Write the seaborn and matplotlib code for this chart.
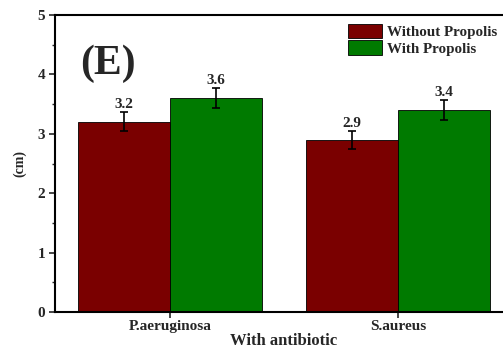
import matplotlib
matplotlib.use("Agg")
import matplotlib.pyplot as plt
from matplotlib.ticker import MultipleLocator
import seaborn as sns
import pandas as pd

# Inhibition zone data (cm)
organisms = ["P.aeruginosa", "S.aureus"]
treatments = ["Without Propolis", "With Propolis"]
without_propolis = [3.2, 2.9]
with_propolis = [3.6, 3.4]
without_err = [0.16, 0.15]
with_err = [0.17, 0.17]
colors = ["#7a0000", "#007a00"]

df = pd.DataFrame({
    "organism": organisms * 2,
    "treatment": [treatments[0]] * 2 + [treatments[1]] * 2,
    "value": without_propolis + with_propolis,
    "err": without_err + with_err,
})

sns.set_style("white")
plt.rcParams["font.family"] = ["Liberation Serif", "DejaVu Serif"]
plt.rcParams["font.weight"] = "bold"

fig = plt.figure(figsize=(5.03, 3.49), dpi=100)
ax = fig.add_axes([0.1093, 0.106, 0.9105, 0.851])

sns.barplot(data=df, x="organism", y="value", hue="treatment",
            hue_order=treatments, order=organisms, palette=colors,
            width=0.807, errorbar=None, edgecolor="black", linewidth=0.6,
            saturation=1, ax=ax)

# error bars and value labels from each bar's own position
for cont, vals, errs in zip(ax.containers, [without_propolis, with_propolis],
                            [without_err, with_err]):
    for bar, v, e in zip(cont, vals, errs):
        cx = bar.get_x() + bar.get_width() / 2
        ax.errorbar(cx, v, yerr=e, color="black", capsize=3, elinewidth=1.2,
                    capthick=1.2)
        ax.text(cx, v + e + 0.02, f"{v:.1f}", ha="center", va="bottom",
                fontsize=11, fontweight="bold")

ax.set_xlim(-0.504, 1.504)
ax.set_ylim(0, 5)
ax.yaxis.set_major_locator(MultipleLocator(1))
ax.yaxis.set_minor_locator(MultipleLocator(0.5))
ax.tick_params(axis="y", which="major", direction="out", length=4, width=1.2,
               left=True, labelsize=11, pad=3)
ax.tick_params(axis="y", which="minor", direction="out", length=2.5, width=1.0,
               left=True)
ax.tick_params(axis="x", which="major", direction="out", length=4, width=1.2,
               bottom=True, labelsize=11, pad=2)
for lab in ax.get_xticklabels() + ax.get_yticklabels():
    lab.set_fontweight("bold")

for side in ["left", "bottom", "top"]:
    ax.spines[side].set_linewidth(1.5)
    ax.spines[side].set_color("black")
ax.spines["right"].set_visible(False)

ax.set_xlabel("With antibiotic", fontsize=12, fontweight="bold", labelpad=0)
ax.set_ylabel("(cm)", fontsize=10, fontweight="bold", labelpad=8)

ax.text(0.055, 0.835, "(E)", transform=ax.transAxes, fontsize=30,
        fontweight="bold", ha="left", va="center")

leg = ax.legend(loc="upper left", bbox_to_anchor=(0.626, 0.99), frameon=False,
                prop={"weight": "bold", "size": 10.8}, handlelength=2.3,
                handleheight=1.1, handletextpad=0.3, labelspacing=0.08,
                borderaxespad=0)

fig.savefig("out.png", dpi=100)
